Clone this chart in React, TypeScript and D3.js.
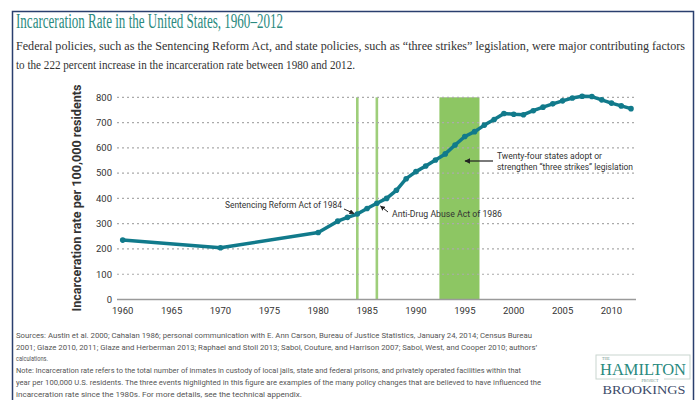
import React from "react";
import * as d3 from "d3";

const years = [1960, 1970, 1980, 1982, 1983, 1984, 1985, 1986, 1987, 1988, 1989, 1990, 1991, 1992, 1993, 1994, 1995, 1996, 1997, 1998, 1999, 2000, 2001, 2002, 2003, 2004, 2005, 2006, 2007, 2008, 2009, 2010, 2011, 2012];
const rates = [235, 205, 265, 310, 325, 338, 360, 381, 400, 432, 478, 506, 528, 552, 576, 611, 645, 664, 690, 712, 736, 733, 731, 747, 761, 774, 786, 797, 804, 803, 790, 777, 766, 755];
const xTicks = [1960, 1965, 1970, 1975, 1980, 1985, 1990, 1995, 2000, 2005, 2010];
const yTicks = [0, 100, 200, 300, 400, 500, 600, 700, 800];
const eventLines = [1984, 1986];
const eventBand = [1992.4, 1996.5];

const title = "Incarceration Rate in the United States, 1960–2012";
const subtitle = [
  "Federal policies, such as the Sentencing Reform Act, and state policies, such as “three strikes” legislation, were major contributing factors",
  "to the 222 percent increase in the incarceration rate between 1980 and 2012.",
];
const yTitle = "Incarceration rate per 100,000 residents";
const footer = [
  "Sources: Austin et al. 2000; Cahalan 1986; personal communication with E. Ann Carson, Bureau of Justice Statistics, January 24, 2014; Census Bureau",
  "2001; Glaze 2010, 2011; Glaze and Herberman 2013; Raphael and Stoll 2013; Sabol, Couture, and Harrison 2007; Sabol, West, and Cooper 2010; authors’",
  "calculations.",
  "Note: Incarceration rate refers to the total number of inmates in custody of local jails, state and federal prisons, and privately operated facilities within that",
  "year per 100,000 U.S. residents. The three events highlighted in this figure are examples of the many policy changes that are believed to have influenced the",
  "incarceration rate since the 1980s. For more details, see the technical appendix.",
];
const footerLengths = [516, 521, 32, 505, 525, 286];

const TEAL = "#117a8b";
const GREEN = "#8dc663";
const SANS = "Roboto, 'Noto Sans', sans-serif";
const SERIF = "'Liberation Serif', 'DejaVu Serif', serif";

export default function App() {
  const x = d3.scaleLinear().domain([1960, 2012]).range([122.7, 631]);
  const y = d3.scaleLinear().domain([0, 800]).range([299.5, 97.3]);
  const pts = years.map((yr, i) => [x(yr), y(rates[i])] as [number, number]);
  const line = d3.line()(pts) || "";
  const gx0 = 117;
  const gx1 = 636;

  return (
    <div style={{ position: "fixed", left: 0, top: 0 }}>
      <svg width={699} height={400} style={{ display: "block", background: "#fff" }}>
        <defs>
          <marker id="ah" viewBox="0 0 10 10" refX="9" refY="5" markerWidth="5" markerHeight="5" orient="auto">
            <path d="M0,0 L10,5 L0,10 z" fill="#222" />
          </marker>
        </defs>
        {/* frame */}
        <path d="M12.5,400 L12.5,11.5 L693.5,11.5 L693.5,400" fill="none" stroke="#2a3f6e" strokeWidth={1.5} />

        {/* title */}
        <text x={16} y={28} fontFamily={SERIF} fontSize={20} fill="#2b8a80" textLength={267} lengthAdjust="spacingAndGlyphs">{title}</text>
        <text x={16} y={50} fontFamily={SERIF} fontSize={11.8} fill="#333" textLength={669} lengthAdjust="spacingAndGlyphs">{subtitle[0]}</text>
        <text x={16} y={69} fontFamily={SERIF} fontSize={11.8} fill="#333" textLength={339} lengthAdjust="spacingAndGlyphs">{subtitle[1]}</text>

        {/* event highlights */}
        {eventLines.map((yr) => (
          <rect key={yr} x={x(yr) - 1.3} y={y(800)} width={2.6} height={y(0) - y(800)} fill={GREEN} opacity={0.85} />
        ))}
        <rect x={x(eventBand[0])} y={y(800)} width={x(eventBand[1]) - x(eventBand[0])} height={y(0) - y(800)} fill={GREEN} />

        {/* gridlines */}
        {yTicks.filter((t) => t > 0).map((t) => (
          <line key={t} x1={gx0} x2={gx1} y1={y(t)} y2={y(t)} stroke="#aaa" strokeWidth={1.2} strokeDasharray="2,3" />
        ))}
        <line x1={gx0} x2={gx1} y1={y(0)} y2={y(0)} stroke="#9a9a9a" strokeWidth={1.5} />

        {/* y ticks */}
        {yTicks.map((t) => (
          <text key={t} x={112} y={y(t) + 3.3} textAnchor="end" fontFamily={SANS} fontSize={9.5} fill="#333">{t}</text>
        ))}
        {/* x ticks */}
        {xTicks.map((t) => (
          <text key={t} x={x(t)} y={314} textAnchor="middle" fontFamily={SANS} fontSize={9.5} fill="#333">{t}</text>
        ))}
        <text transform={`translate(81,${(97 + 299) / 2}) rotate(-90)`} textAnchor="middle" fontFamily={SANS} fontWeight="bold" fontSize={12.5} fill="#333" textLength={227} lengthAdjust="spacingAndGlyphs">{yTitle}</text>

        {/* data line */}
        <path d={line} fill="none" stroke={TEAL} strokeWidth={3.5} strokeLinejoin="round" strokeLinecap="round" />
        {pts.map((p, i) => (
          <circle key={i} cx={p[0]} cy={p[1]} r={2.8} fill={TEAL} />
        ))}

        {/* annotations */}
        <text x={225} y={208} fontFamily={SANS} fontSize={9} fill="#333" textLength={117} lengthAdjust="spacingAndGlyphs">Sentencing Reform Act of 1984</text>
        <line x1={344} y1={209} x2={354} y2={213.5} stroke="#222" strokeWidth={1} markerEnd="url(#ah)" />
        <text x={392} y={217} fontFamily={SANS} fontSize={9} fill="#333" textLength={110} lengthAdjust="spacingAndGlyphs">Anti-Drug Abuse Act of 1986</text>
        <line x1={388} y1={212} x2={380.5} y2={206} stroke="#222" strokeWidth={1} markerEnd="url(#ah)" />
        <text x={497} y={159} fontFamily={SANS} fontSize={9} fill="#333" textLength={105} lengthAdjust="spacingAndGlyphs">Twenty-four states adopt or</text>
        <text x={497} y={170} fontFamily={SANS} fontSize={9} fill="#333" textLength={136} lengthAdjust="spacingAndGlyphs">strengthen “three strikes” legislation</text>
        <line x1={493} y1={161} x2={465} y2={161} stroke="#222" strokeWidth={1.2} markerEnd="url(#ah)" />

        {/* footer */}
        {footer.map((f, i) => (
          <text key={i} x={16} y={338 + i * 11.7} fontFamily={SANS} fontSize={7.5} fill="#555" textLength={footerLengths[i]} lengthAdjust="spacingAndGlyphs">{f}</text>
        ))}

        {/* logo */}
        <rect x={596} y={355} width={94} height={24} fill="none" stroke="#c9d6cf" strokeWidth={1} />
        <text x={602} y={359.5} fontFamily={SERIF} fontSize={4} fill="#6a8f88">THE</text>
        <text x={643} y={375} textAnchor="middle" fontFamily={SERIF} fontSize={16} fill="#2b8a80" textLength={86} lengthAdjust="spacingAndGlyphs">HAMILTON</text>
        <rect x={636} y={377} width={28} height={5} fill="#fff" />
        <text x={650} y={381.5} textAnchor="middle" fontFamily={SERIF} fontSize={4} fill="#6a8f88">PROJECT</text>
        <text x={644} y={394} textAnchor="middle" fontFamily={SERIF} fontSize={13.5} fill="#3d4b6a" textLength={83} lengthAdjust="spacingAndGlyphs">BROOKINGS</text>
      </svg>
    </div>
  );
}
